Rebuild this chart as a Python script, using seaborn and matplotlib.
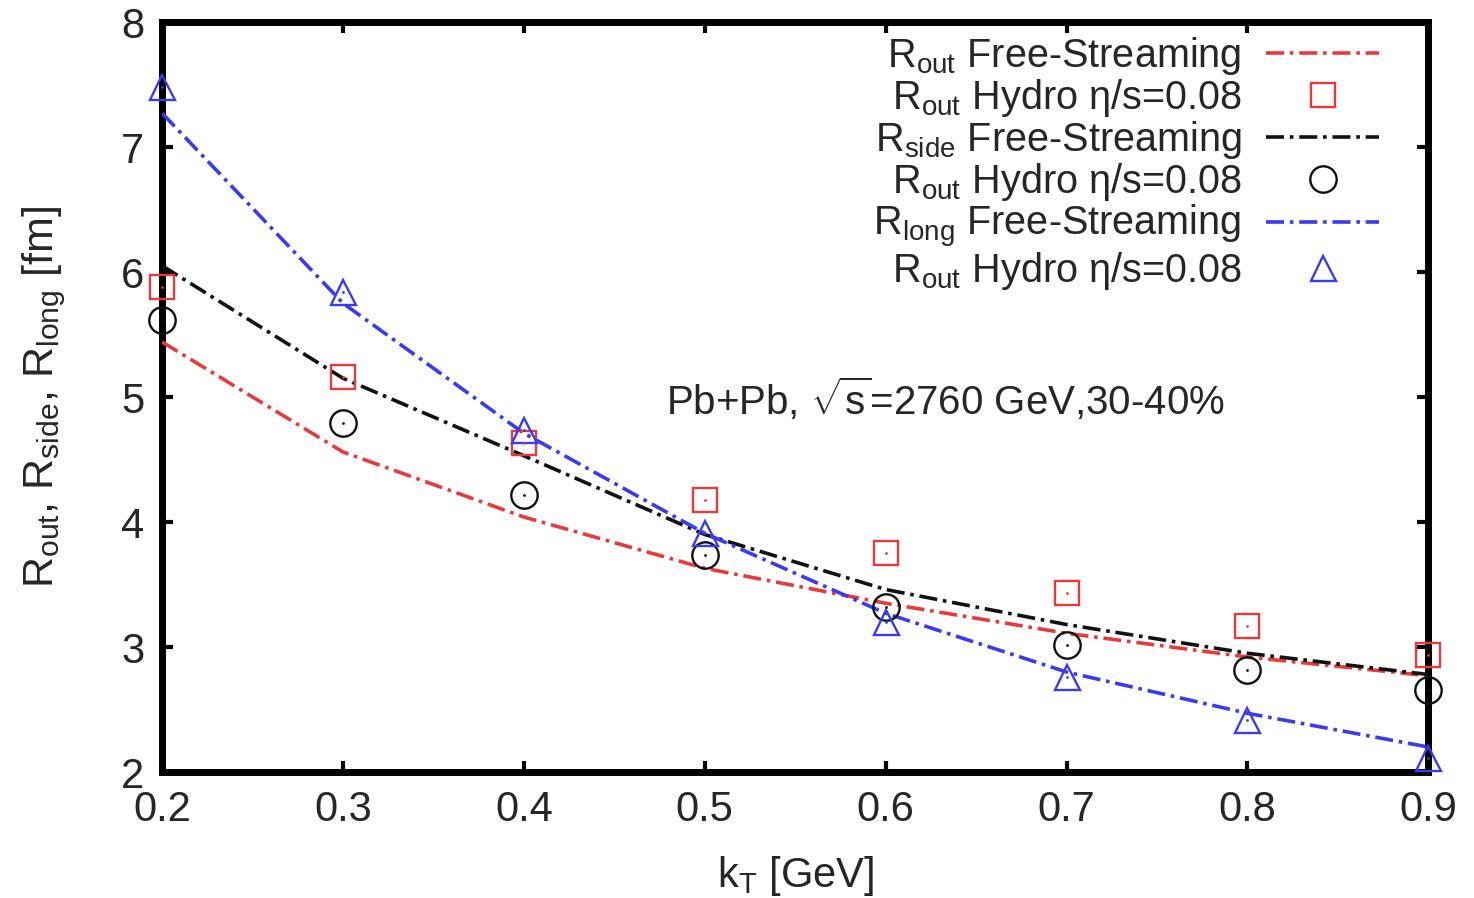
import numpy as np
import pandas as pd
import matplotlib
matplotlib.use("Agg")
import matplotlib.pyplot as plt
import seaborn as sns

# ---- data ----
kt = [0.2, 0.3, 0.4, 0.5, 0.6, 0.7, 0.8, 0.9]
rout_fs = [5.44, 4.56, 4.04, 3.63, 3.35, 3.11, 2.92, 2.77]
rout_hydro = [5.88, 5.16, 4.63, 4.18, 3.75, 3.43, 3.17, 2.94]
rside_fs = [6.05, 5.15, 4.53, 3.90, 3.46, 3.18, 2.95, 2.78]
rside_hydro = [5.62, 4.79, 4.22, 3.74, 3.32, 3.02, 2.82, 2.66]
rlong_fs = [7.27, 5.75, 4.71, 3.91, 3.27, 2.80, 2.47, 2.20]
rlong_hydro = [7.48, 5.84, 4.74, 3.91, 3.20, 2.76, 2.42, 2.11]

labels = [
    r"R$_{\rm out}$ Free-Streaming",
    r"R$_{\rm out}$ Hydro η/s=0.08",
    r"R$_{\rm side}$ Free-Streaming",
    r"R$_{\rm out}$ Hydro η/s=0.08",
    r"R$_{\rm long}$ Free-Streaming",
    r"R$_{\rm out}$ Hydro η/s=0.08",
]
xticks = [0.2, 0.3, 0.4, 0.5, 0.6, 0.7, 0.8, 0.9]
yticks = [2, 3, 4, 5, 6, 7, 8]

RED = "#e83a3a"
BLACK = "#111111"
BLUE = "#3a3af0"

sns.set_style("ticks")
plt.rcParams["font.family"] = ["Liberation Sans", "DejaVu Sans"]
plt.rcParams["mathtext.fontset"] = "custom"
plt.rcParams["mathtext.rm"] = "Liberation Sans"
plt.rcParams["mathtext.it"] = "Liberation Sans:italic"
plt.rcParams["mathtext.bf"] = "Liberation Sans:bold"

fig = plt.figure(figsize=(14.74, 8.98), dpi=100)
ax = fig.add_axes([0.110, 0.1403, 0.859, 0.8352])

dash = (5, 1.6, 1, 1.6)

series = [
    (rout_fs, "line", RED, None),
    (rout_hydro, "mark", RED, "s"),
    (rside_fs, "line", BLACK, None),
    (rside_hydro, "mark", BLACK, "o"),
    (rlong_fs, "line", BLUE, None),
    (rlong_hydro, "mark", BLUE, "^"),
]
msizes = {"s": 17, "o": 19, "^": 18}

for (vals, kind, col, mk), lab in zip(series, labels):
    df = pd.DataFrame({"kt": kt, "R": vals})
    if kind == "line":
        sns.lineplot(data=df, x="kt", y="R", ax=ax, color=col, lw=2.6,
                     dashes=False, label=lab, errorbar=None, zorder=3,
                     sort=True)
        ax.lines[-1].set_dashes(dash)
    else:
        sns.lineplot(data=df, x="kt", y="R", ax=ax, color=col, lw=0,
                     marker=mk, markersize=msizes[mk], markerfacecolor="none",
                     markeredgecolor=col, markeredgewidth=1.7, label=lab,
                     errorbar=None, zorder=4, clip_on=False)
        ax.lines[-1].set_linestyle("none")
        # small centre dot (gnuplot style)
        sns.scatterplot(data=df, x="kt", y="R", ax=ax, color=col, s=4,
                        linewidth=0, zorder=5, legend=False, clip_on=False)

ax.set_xlim(0.2, 0.9)
ax.set_ylim(2, 8)
ax.set_xticks(xticks)
ax.set_xticklabels([f"{v:.1f}" for v in xticks])
ax.set_yticks(yticks)
ax.set_yticklabels([str(v) for v in yticks])

for sp in ax.spines.values():
    sp.set_visible(True)
    sp.set_linewidth(5)
    sp.set_color("black")
    sp.set_zorder(2)

ax.tick_params(axis="both", which="major", direction="in", length=8, width=3,
               labelsize=30, top=True, right=True, pad=13, color="black")

ax.set_xlabel(r"k$_{\rm T}$ [GeV]", fontsize=30, labelpad=17)
ax.set_ylabel(r"R$_{\rm out}$, R$_{\rm side}$, R$_{\rm long}$ [fm]",
              fontsize=31, labelpad=38)

ax.text(0.633, 4.98, r"Pb+Pb, $\sqrt{\rm s}$=2760 GeV,30-40%",
        fontsize=29, ha="center", va="center")

handles, labs = ax.get_legend_handles_labels()
leg = ax.legend(handles, labs, loc="upper right", bbox_to_anchor=(0.98, 1.014),
                frameon=False, markerfirst=False, fontsize=28.5,
                handlelength=2.85, handletextpad=0.63, labelspacing=0.0,
                borderaxespad=0.2)

fig.savefig("out.png", dpi=100)
